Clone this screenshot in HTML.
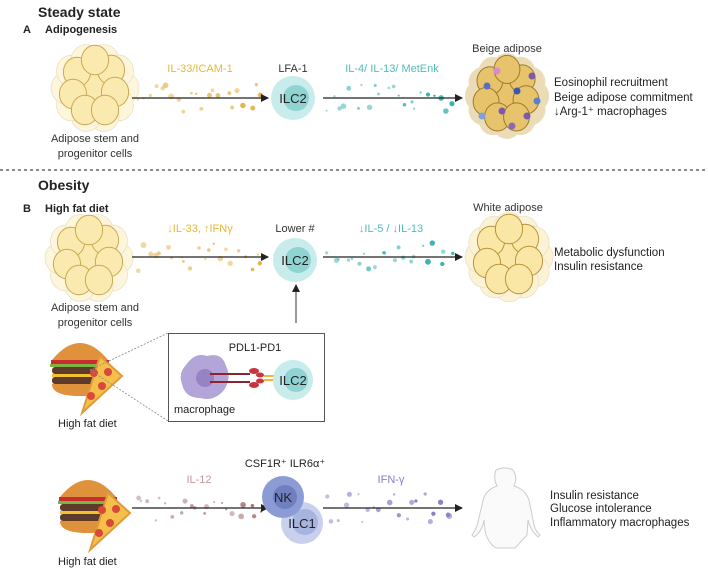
<!DOCTYPE html>
<html><head><meta charset="utf-8"><style>
html,body{margin:0;padding:0;background:#fff;}
svg{display:block;font-family:"Liberation Sans",sans-serif;}
</style></head><body>
<svg id="s" width="708" height="570" viewBox="0 0 708 570" xmlns="http://www.w3.org/2000/svg">
<defs>
<marker id="ah" markerWidth="8" markerHeight="8" refX="7" refY="4" orient="auto" markerUnits="userSpaceOnUse"><path d="M0,0 L8,4 L0,8 z" fill="#222"/></marker>
</defs>
<g id="dots"></g>
<g id="cells"></g>
<text x="38" y="17" font-size="14" font-weight="bold" fill="#222">Steady state</text>
<text x="23" y="33" font-size="11" font-weight="bold" fill="#222">A</text>
<text x="45" y="33" font-size="11" font-weight="bold" fill="#222">Adipogenesis</text>
<line x1="0" y1="170" x2="708" y2="170" stroke="#444" stroke-width="1.3" stroke-dasharray="3,3"/>
<text x="38" y="190" font-size="14" font-weight="bold" fill="#222">Obesity</text>
<text x="23" y="212" font-size="11" font-weight="bold" fill="#222">B</text>
<text x="45" y="212" font-size="11" font-weight="bold" fill="#222">High fat diet</text>

<text x="95" y="142" font-size="11" fill="#333" text-anchor="middle">Adipose stem and</text>
<text x="95" y="157" font-size="11" fill="#333" text-anchor="middle">progenitor cells</text>
<text x="200" y="72" font-size="11" fill="#e6b935" text-anchor="middle">IL-33/ICAM-1</text>
<line x1="132" y1="98" x2="268" y2="98" stroke="#222" stroke-width="1.3" marker-end="url(#ah)"/>
<text x="293" y="72" font-size="11" fill="#333" text-anchor="middle">LFA-1</text>
<circle cx="293" cy="98" r="22" fill="#c8ecec"/><circle cx="296" cy="98" r="13" fill="#8fd3d3"/>
<text x="293" y="103" font-size="13" fill="#222" text-anchor="middle">ILC2</text>
<text x="392" y="72" font-size="11" fill="#4fbcbc" text-anchor="middle">IL-4/ IL-13/ MetEnk</text>
<line x1="323" y1="98" x2="462" y2="98" stroke="#222" stroke-width="1.3" marker-end="url(#ah)"/>
<text x="507" y="52" font-size="11" fill="#333" text-anchor="middle">Beige adipose</text>
<text x="554" y="86" font-size="11.5" fill="#222">Eosinophil recruitment</text>
<text x="554" y="101" font-size="11.5" fill="#222">Beige adipose commitment</text>
<text x="554" y="115" font-size="11.5" fill="#222">↓Arg-1⁺ macrophages</text>

<text x="95" y="311" font-size="11" fill="#333" text-anchor="middle">Adipose stem and</text>
<text x="95" y="326" font-size="11" fill="#333" text-anchor="middle">progenitor cells</text>
<text x="200" y="232" font-size="11" fill="#e6b935" text-anchor="middle">↓IL-33, ↑IFNγ</text>
<line x1="132" y1="257" x2="268" y2="257" stroke="#222" stroke-width="1.3" marker-end="url(#ah)"/>
<text x="295" y="232" font-size="11" fill="#333" text-anchor="middle">Lower #</text>
<circle cx="295" cy="260" r="22" fill="#c8ecec"/><circle cx="298" cy="260" r="13" fill="#8fd3d3"/>
<text x="295" y="265" font-size="13" fill="#222" text-anchor="middle">ILC2</text>
<text x="391" y="232" font-size="11" fill="#4fbcbc" text-anchor="middle">↓IL-5 / ↓IL-13</text>
<line x1="323" y1="257" x2="462" y2="257" stroke="#222" stroke-width="1.3" marker-end="url(#ah)"/>
<text x="508" y="211" font-size="11" fill="#333" text-anchor="middle">White adipose</text>
<text x="554" y="256" font-size="11.5" fill="#222">Metabolic dysfunction</text>
<text x="554" y="270" font-size="11.5" fill="#222">Insulin resistance</text>
<line x1="296" y1="323" x2="296" y2="285" stroke="#333" stroke-width="1" marker-end="url(#ah)"/>

<line x1="90" y1="370" x2="168" y2="333" stroke="#888" stroke-width="0.8" stroke-dasharray="2,1.5"/>
<line x1="90" y1="370" x2="168" y2="421" stroke="#888" stroke-width="0.8" stroke-dasharray="2,1.5"/>
<rect x="168.5" y="333.5" width="156" height="88" fill="#fff" stroke="#555" stroke-width="1"/>
<text x="255" y="351" font-size="11" fill="#222" text-anchor="middle">PDL1-PD1</text>
<path d="M186,365 Q195,352 207,356 Q222,352 226,366 Q232,378 224,390 Q214,402 200,398 Q185,398 182,384 Q178,373 186,365z" fill="#b3a5d8"/>
<circle cx="205" cy="378" r="9" fill="#9583c4"/>
<line x1="210" y1="374" x2="250" y2="374" stroke="#8c2330" stroke-width="2"/>
<line x1="210" y1="382" x2="250" y2="382" stroke="#8c2330" stroke-width="2"/>
<ellipse cx="254" cy="371" rx="5" ry="3" fill="#c7363c"/><ellipse cx="254" cy="385" rx="5" ry="3" fill="#c7363c"/>
<ellipse cx="260" cy="375" rx="4" ry="2.5" fill="#c7363c"/><ellipse cx="260" cy="381" rx="4" ry="2.5" fill="#c7363c"/>
<line x1="264" y1="376" x2="282" y2="376" stroke="#f0b73c" stroke-width="2"/>
<line x1="264" y1="380" x2="282" y2="380" stroke="#f0b73c" stroke-width="2"/>
<circle cx="293" cy="380" r="20" fill="#c8ecec"/><circle cx="296" cy="380" r="12" fill="#8fd3d3"/>
<text x="293" y="385" font-size="13" fill="#222" text-anchor="middle">ILC2</text>
<text x="174" y="413" font-size="11" fill="#222">macrophage</text>
<text x="58" y="427" font-size="11" fill="#222">High fat diet</text>

<text x="285" y="467" font-size="11" fill="#222" text-anchor="middle">CSF1R⁺ ILR6α⁺</text>
<text x="199" y="483" font-size="11" fill="#c09a98" text-anchor="middle">IL-12</text>
<line x1="132" y1="508" x2="268" y2="508" stroke="#222" stroke-width="1.3" marker-end="url(#ah)"/>
<circle cx="302" cy="523" r="21" fill="#c8d0ee"/><circle cx="305" cy="522" r="13" fill="#a8b4e0"/>
<circle cx="283" cy="497" r="21" fill="#8c9bd4"/><circle cx="285" cy="497" r="12" fill="#6f7fc0"/>
<text x="283" y="502" font-size="13" fill="#222" text-anchor="middle">NK</text>
<text x="302" y="528" font-size="13" fill="#222" text-anchor="middle">ILC1</text>
<text x="391" y="483" font-size="11" fill="#8a7cc6" text-anchor="middle">IFN-γ</text>
<line x1="323" y1="508" x2="462" y2="508" stroke="#222" stroke-width="1.3" marker-end="url(#ah)"/>
<path d="M496,470 Q505,466 513,470 Q518,478 514,486 Q528,490 530,505 L534,525 Q536,532 540,535 L538,537 Q530,530 528,520 L527,535 Q522,540 518,545 L515,548 L496,548 L492,545 Q486,538 485,530 L484,520 Q482,532 474,537 L472,535 Q476,530 478,522 L482,505 Q484,490 497,486 Q493,478 496,470z" fill="#fafafa" stroke="#ccc" stroke-width="1"/>
<text x="550" y="499" font-size="11.5" fill="#222">Insulin resistance</text>
<text x="550" y="512" font-size="11.5" fill="#222">Glucose intolerance</text>
<text x="550" y="526" font-size="11.5" fill="#222">Inflammatory macrophages</text>
<text x="58" y="565" font-size="11" fill="#222">High fat diet</text>
</svg>
<script>
var NS="http://www.w3.org/2000/svg";
function el(p,t,a){var e=document.createElementNS(NS,t);for(var k in a)e.setAttribute(k,a[k]);document.getElementById(p).appendChild(e);return e;}
var seed=7;function r(){seed=(seed*9301+49297)%233280;return seed/233280;}
function dots(x0,x1,y,c){for(var i=0;i<22;i++){var x=x0+(x1-x0)*i/21+(r()-0.5)*6;var dy=(r()-0.5)*28;el("dots","circle",{cx:x,cy:y+dy,r:1+r()*2,fill:c,opacity:0.3+0.7*(i/21)*r()+0.2});}}
dots(138,262,98,"#e6b24a");dots(328,452,98,"#3bb3b3");
dots(138,262,257,"#e6b24a");dots(328,452,257,"#3bb3b3");
dots(138,262,508,"#a87c7c");dots(328,452,508,"#8a7cc6");
function cluster(cx,cy,R,fill,stroke,pale,n){
 for(var i=0;i<n;i++){var a=i/n*6.28,d=R*0.72;el("cells","ellipse",{cx:cx+Math.cos(a)*d,cy:cy+Math.sin(a)*d,rx:R*0.38,ry:R*0.4,fill:pale,stroke:"#e8dfc0","stroke-width":0.7});}
 var pts=[[0,0],[-0.45,-0.4],[0.4,-0.45],[-0.55,0.15],[0.5,0.1],[-0.25,0.55],[0.25,0.55],[0,-0.7]];
 pts.forEach(function(p){el("cells","ellipse",{cx:cx+p[0]*R,cy:cy+p[1]*R,rx:R*0.34,ry:R*0.37,fill:fill,stroke:stroke,"stroke-width":1});});
}
cluster(95,88,40,"#fbeab0","#c9a951","#fdf6dc",10);
cluster(89,258,40,"#fbeab0","#c9a951","#fdf6dc",10);
cluster(509,257,40,"#fae7a6","#b8943a","#fcf3d6",12);
cluster(507,96,38,"#e7c46c","#9e7a2c","#ecdcb6",12);
var bd=[[-20,-10,"#5a6fc0"],[10,-5,"#3d56b0"],[-5,15,"#7b5aa8"],[20,20,"#7b5aa8"],[-25,20,"#7ea0e0"],[25,-20,"#7b5aa8"],[-10,-25,"#d98ad0"],[5,30,"#8a6ab8"],[30,5,"#5a7fd0"]];
bd.forEach(function(p){el("cells","circle",{cx:507+p[0],cy:96+p[1],r:3.5,fill:p[2]});});
function burger(x,y){var g="cells";
 el(g,"path",{d:"M"+(x-28)+","+(y-8)+" Q"+x+","+(y-42)+" "+(x+28)+","+(y-8)+" z",fill:"#e0913c"});
 el(g,"rect",{x:x-29,y:y-8,width:58,height:4,fill:"#c62e2e"});
 el(g,"rect",{x:x-30,y:y-4,width:60,height:3,fill:"#7cb342"});
 el(g,"rect",{x:x-28,y:y-1,width:56,height:7,rx:3,fill:"#5d3a2a"});
 el(g,"rect",{x:x-28,y:y+6,width:56,height:3,fill:"#f2c12e"});
 el(g,"rect",{x:x-28,y:y+9,width:56,height:7,rx:3,fill:"#5d3a2a"});
 el(g,"path",{d:"M"+(x-28)+","+(y+16)+" L"+(x+28)+","+(y+16)+" Q"+(x+28)+","+(y+28)+" "+x+","+(y+28)+" Q"+(x-28)+","+(y+28)+" "+(x-28)+","+(y+16)+" z",fill:"#e0913c"});
 el(g,"path",{d:"M"+(x+2)+","+(y+45)+" L"+(x+20)+","+(y-12)+" L"+(x+42)+","+(y+8)+" z",fill:"#f5c04a",stroke:"#e09a3a","stroke-width":2});
 [[14,5],[22,18],[11,28],[28,4]].forEach(function(p){el(g,"circle",{cx:x+p[0],cy:y+p[1],r:4,fill:"#d9483b"});});
}
burger(80,368);burger(88,505);
</script>
</body></html>
